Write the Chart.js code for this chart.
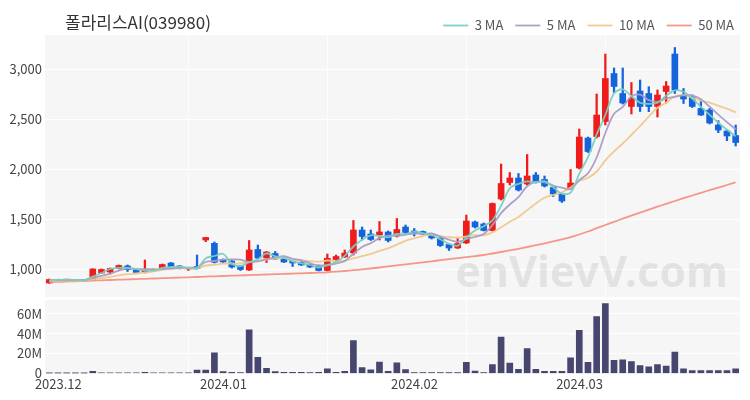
<!DOCTYPE html>
<html><head><meta charset="utf-8">
<script src="https://cdn.jsdelivr.net/npm/chart.js@4.4.1/dist/chart.umd.min.js"></script>
<style>
html,body{margin:0;padding:0;background:#fff;}
#wrap{position:relative;width:750px;height:400px;overflow:hidden;}
#title{position:absolute;left:65px;top:11px;font-size:17px;font-family:'Noto Sans CJK KR','Noto Sans',sans-serif;color:#333;line-height:22px;}
#c1{position:absolute;left:0;top:0;}
#c2{position:absolute;left:0;top:297px;}
</style></head><body>
<div id="wrap">
<canvas id="c1" width="750" height="297"></canvas>
<canvas id="c2" width="750" height="103"></canvas>
<div id="title">폴라리스AI(039980)</div>
</div>
<script>
const dates = [
'2023-12-01','2023-12-04','2023-12-05','2023-12-06','2023-12-07','2023-12-08','2023-12-11','2023-12-12','2023-12-13','2023-12-14',
'2023-12-15','2023-12-18','2023-12-19','2023-12-20','2023-12-21','2023-12-22','2023-12-26','2023-12-27','2023-12-28',
'2024-01-02','2024-01-03','2024-01-04','2024-01-05','2024-01-08','2024-01-09','2024-01-10','2024-01-11','2024-01-12',
'2024-01-15','2024-01-16','2024-01-17','2024-01-18','2024-01-19','2024-01-22','2024-01-23','2024-01-24','2024-01-25','2024-01-26',
'2024-01-29','2024-01-30','2024-01-31',
'2024-02-01','2024-02-02','2024-02-05','2024-02-06','2024-02-07','2024-02-08','2024-02-13','2024-02-14','2024-02-15','2024-02-16',
'2024-02-19','2024-02-20','2024-02-21','2024-02-22','2024-02-23','2024-02-26','2024-02-27','2024-02-28','2024-02-29',
'2024-03-04','2024-03-05','2024-03-06','2024-03-07','2024-03-08','2024-03-11','2024-03-12','2024-03-13','2024-03-14','2024-03-15',
'2024-03-18','2024-03-19','2024-03-20','2024-03-21','2024-03-22','2024-03-25','2024-03-26','2024-03-27','2024-03-28','2024-03-29'
];
const opens = [860,885,888,893,890,890,960,970,1005,1030, 995,965,985,1005,1060,1030,1000,1025,1290,1257,
1095,1080,1030,990,1195,1110,1155,1105,1080,1065, 1045,1035,985,1095,1120,1160,1390,1350,1340,1370,
1330,1420,1380,1375,1350,1305,1245,1210,1260,1470, 1450,1385,1700,1865,1910,1850,1940,1895,1815,1750,
1810,2010,2310,2325,2475,2955,2755,2625,2780,2755, 2625,2775,3150,2730,2720,2605,2590,2440,2380,2335];
const highs = [900,898,897,896,894,1002,1000,1010,1040,1040, 1000,1090,1000,1050,1065,1035,1010,1140,1317,1270,
1100,1085,1035,1285,1240,1175,1175,1110,1085,1075, 1050,1040,1150,1140,1190,1485,1420,1390,1475,1380,
1505,1440,1405,1380,1355,1315,1250,1305,1540,1480, 1460,1660,2050,1965,1955,2145,1965,1930,1825,1760,
1995,2400,2320,2750,3150,3010,3010,2865,2890,2823, 2790,2875,3215,2805,2740,2680,2605,2483,2390,2440];
const lows = [857,880,884,882,880,885,955,950,1000,975, 960,960,980,995,1010,1000,985,1000,1273,1060,
1065,1010,985,985,1100,1065,1095,1065,1025,1035, 1015,980,980,1085,1115,1140,1290,1285,1290,1270,
1320,1355,1330,1345,1300,1225,1185,1205,1255,1410, 1380,1380,1690,1840,1780,1840,1860,1820,1725,1665,
1800,2000,2165,2310,2440,2765,2650,2550,2575,2573, 2520,2660,2755,2655,2615,2535,2450,2363,2283,2230];
const closes = [895,895,892,885,885,1000,995,1005,1035,995, 965,995,995,1045,1020,1005,1005,1005,1315,1067,
1070,1020,995,1190,1110,1170,1100,1070,1060,1040, 1020,985,1107,1125,1160,1390,1325,1295,1370,1285,
1395,1365,1360,1350,1310,1235,1210,1255,1480,1420, 1385,1655,1855,1910,1790,1930,1875,1830,1750,1680,
1860,2320,2175,2540,2905,2825,2660,2705,2625,2625, 2740,2830,2790,2700,2625,2540,2460,2390,2330,2265];
const volumes = [0.1,0.1,0.1,0.1,0.1,2.0,0.4,0.4,0.4,0.4, 0.4,1.2,0.4,0.4,0.4,0.4,0.4,3.4,3.4,20.8,
1.8,1.2,0.9,44.0,16.2,5.0,1.8,1.2,1.1,1.1, 0.8,1.0,4.7,1.0,2.2,33.2,5.8,3.5,11.3,2.0,
10.6,3.8,0.8,0.8,0.8,0.8,0.8,0.8,11.2,2.4, 0.9,9.0,36.7,10.5,4.0,25.0,4.0,2.0,2.0,2.0,
15.7,43.3,11.2,57.3,70.3,13.3,13.7,12.0,7.8,6.5, 8.8,7.3,21.6,4.6,2.8,2.8,2.8,2.8,2.8,4.7];
const ma3 = [888,892,894,891,887,923,960,1000,1012,1012, 998,985,985,1012,1020,1023,1010,1005,1108,1130,
1152,1053,1028,1068,1098,1157,1127,1113,1077,1057, 1040,1015,1037,1072,1131,1225,1292,1337,1330,1317,
1350,1348,1373,1358,1340,1298,1252,1233,1315,1385, 1428,1487,1632,1807,1852,1877,1865,1878,1818,1753,
1763,1953,2118,2345,2540,2757,2797,2730,2663,2652, 2663,2732,2787,2773,2705,2622,2542,2463,2393,2328];
const ma5 = [887,889,890,890,890,911,931,954,984,1006, 999,999,997,999,1004,1012,1014,1016,1070,1080,
1093,1096,1094,1069,1077,1097,1113,1128,1102,1088, 1058,1035,1042,1055,1079,1153,1221,1259,1308,1333,
1334,1342,1355,1351,1356,1324,1293,1272,1298,1320, 1350,1439,1559,1645,1719,1828,1872,1867,1835,1813,
1799,1888,1957,2115,2360,2553,2621,2727,2744,2688, 2671,2705,2722,2737,2737,2697,2623,2543,2469,2397];
const ma10 = [882,883,884,885,885,897,909,921,937,948, 955,965,976,992,1005,1006,1007,1007,1035,1042,
1053,1055,1055,1070,1079,1095,1105,1111,1086,1083, 1078,1074,1085,1079,1084,1106,1128,1151,1182,1206,
1244,1282,1307,1330,1345,1329,1318,1314,1325,1338, 1337,1366,1416,1472,1520,1589,1656,1713,1740,1766,
1814,1880,1912,1975,2087,2176,2255,2342,2430,2524, 2612,2663,2725,2741,2713,2684,2664,2633,2603,2567];
const ma50 = [868,871,874,877,880,884,887,890,893,896, 899,902,905,908,911,914,917,920,924,927,
930,933,936,939,942,945,948,951,954,957, 960,963,967,973,980,988,996,1005,1015,1026,
1037,1047,1057,1067,1077,1088,1098,1108,1118,1129, 1140,1155,1170,1186,1202,1220,1238,1257,1277,1297,
1318,1345,1375,1408,1440,1472,1503,1534,1564,1594, 1623,1652,1680,1708,1735,1762,1788,1814,1840,1866];
const priceTicks = [1000,1500,2000,2500,3000];
const volTicks = [0,20,40,60];
const maLabels = ['3 MA','5 MA','10 MA','50 MA'];

const UP = '#f01c1c', DOWN = '#1464dc';
const candleColors = closes.map((c,i)=> c >= opens[i] ? UP : DOWN);
Chart.defaults.font.family = "'Noto Sans CJK KR','Noto Sans',sans-serif";
Chart.defaults.color = '#444';

const monthTick = i => (i === 0 || dates[i].slice(0,7) !== dates[i-1].slice(0,7)) ? dates[i].slice(0,7).replace('-', '.') : '';
function xScale(showLabels){
  return {
    type:'category', offset:true,
    grid:{offset:false, drawTicks:false, lineWidth:1, color: c => (c.index>0 && c.index%16===0) ? 'rgba(255,255,255,0.8)' : 'rgba(0,0,0,0)'},
    border:{display:false},
    afterFit:s=>{ if(!showLabels){ s.height = 0; } s.paddingLeft = 0; s.paddingRight = 0; },
    ticks:{display:showLabels, autoSkip:false, maxRotation:0, minRotation:0, padding:3, labelOffset:9, color:'#444', font:{size:13}, callback:(v,i)=>monthTick(i)}
  };
}
function fixY(s){ s.width = 45; s.paddingTop = 0; s.paddingBottom = 0; }
const bgPlugin = {id:'bg', beforeDraw(chart){const a=chart.chartArea, ctx=chart.ctx; ctx.save(); ctx.fillStyle='#f6f6f6'; ctx.fillRect(a.left,a.top,a.right-a.left,a.bottom-a.top); ctx.restore();}};
const wmPlugin = {id:'wm', beforeDatasetsDraw(chart){const a=chart.chartArea, ctx=chart.ctx; ctx.save(); ctx.font='bold 43px "Noto Sans"'; ctx.fillStyle='rgba(0,0,0,0.08)'; ctx.textAlign='right'; ctx.textBaseline='alphabetic'; ctx.fillText('enVievV.com', a.right-12, a.bottom-10); ctx.restore();}};
const legendShift = {id:'legendShift', afterLayout(chart){ const lg = chart.legend; if(lg){ lg.left += 6; lg.right += 6; lg.adjustHitBoxes(); } }};

const maColors = ['rgba(118,208,192,0.95)','rgba(170,155,198,0.95)','rgba(240,200,140,0.95)','rgba(245,140,125,0.9)'];
const maData = [ma3, ma5, ma10, ma50];
const lineSets = maData.map((d,k)=>({type:'line', label:maLabels[k], data:d, borderColor:maColors[k], backgroundColor:maColors[k], borderWidth:1.8, pointRadius:0, tension:0.3, order:0}));

new Chart(document.getElementById('c1'), {
  type:'bar',
  data:{labels:dates, datasets:[...lineSets,
    {type:'bar', label:'wick', data: lows.map((l,i)=>[l,highs[i]]), backgroundColor:candleColors, barThickness:1.6, grouped:false, order:1},
    {type:'bar', label:'body', data: opens.map((o,i)=>[o,closes[i]]), backgroundColor:candleColors, barThickness:6, minBarLength:1, grouped:false, order:1}
  ]},
  options:{
    responsive:false, animation:false, events:[],
    layout:{padding:{top:7,right:10,bottom:0,left:0}},
    plugins:{
      legend:{display:true, position:'top', align:'end', maxHeight:28,
        labels:{usePointStyle:true, pointStyle:'line', pointStyleWidth:25, padding:12, color:'#555', font:{size:13},
          filter:(item,data)=>data.datasets[item.datasetIndex].type==='line'}},
      tooltip:{enabled:false}, title:{display:false}
    },
    scales:{
      x: xScale(false),
      y:{position:'left', min:720, max:3340,
        afterBuildTicks:s=>{s.ticks = priceTicks.map(v=>({value:v}));},
        afterFit:fixY,
        grid:{color:'#ffffff', drawTicks:false}, border:{display:false},
        ticks:{padding:3, color:'#444', font:{size:13}, callback:v=>Number(v).toLocaleString('en-US')}}
    }
  },
  plugins:[bgPlugin, wmPlugin, legendShift]
});

new Chart(document.getElementById('c2'), {
  type:'bar',
  data:{labels:dates, datasets:[{label:'Volume', data:volumes, backgroundColor:'#46466e', barThickness:6}]},
  options:{
    responsive:false, animation:false, events:[],
    layout:{padding:{top:3,right:10,bottom:5,left:0}},
    plugins:{legend:{display:false}, tooltip:{enabled:false}},
    scales:{
      x: xScale(true),
      y:{position:'left', min:0, max:74,
        afterBuildTicks:s=>{s.ticks = volTicks.map(v=>({value:v}));},
        afterFit:fixY,
        grid:{color:c=>c.tick && c.tick.value===0 ? 'rgba(0,0,0,0)' : '#ffffff', drawTicks:false}, border:{display:false},
        ticks:{padding:3, color:'#444', font:{size:13}, callback:v=> v===0 ? '0' : v+'M'}}
    }
  },
  plugins:[bgPlugin]
});
</script>
</body></html>
